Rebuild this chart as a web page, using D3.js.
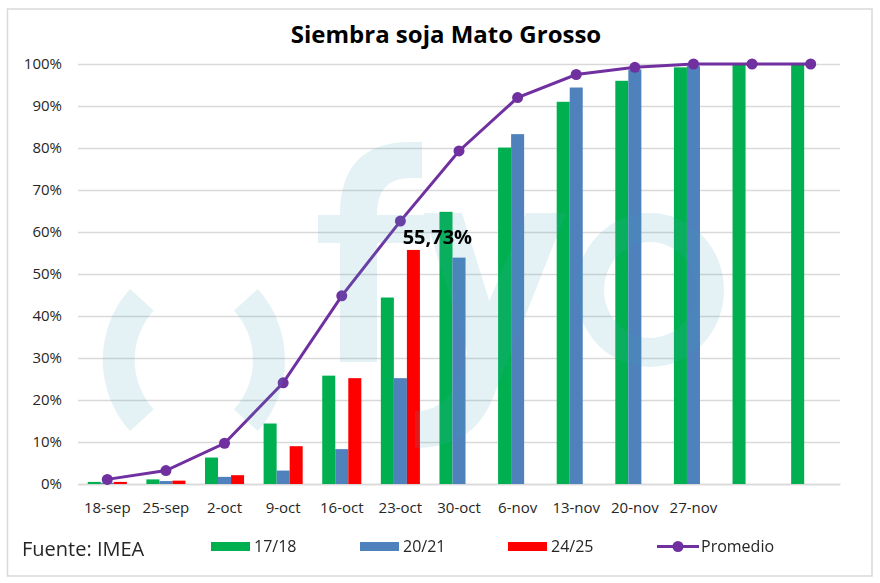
<!DOCTYPE html>
<html><head><meta charset="utf-8">
<script src="https://cdn.jsdelivr.net/npm/d3@7"></script>
<style>
body{margin:0;background:#fff}
svg{display:block}
text{font-family:"Open Sans",Lato,sans-serif}
</style>
</head><body>
<svg id="c" width="880" height="583"></svg>
<script>
// ---- data ----
const categories = ["18-sep","25-sep","2-oct","9-oct","16-oct","23-oct","30-oct","6-nov","13-nov","20-nov","27-nov","",""];
const seriesNames = ["17/18","20/21","24/25"];
const s1718 = [0.5, 1.1, 6.3, 14.4, 25.8, 44.4, 64.8, 80.1, 91.0, 96.0, 99.2, 100, 100];
const s2021 = [0.3, 0.7, 1.7, 3.2, 8.3, 25.2, 53.9, 83.3, 94.4, 98.7, 99.5, null, null];
const s2425 = [0.5, 0.8, 2.1, 9.0, 25.2, 55.73, null, null, null, null, null, null, null];
const promedio = [1.1, 3.2, 9.7, 24.1, 44.8, 62.6, 79.3, 92.0, 97.5, 99.2, 100, 100, 100];
const yTicks = [0,10,20,30,40,50,60,70,80,90,100];
const titleText = "Siembra soja Mato Grosso";
const sourceText = "Fuente: IMEA";
const lineName = "Promedio";
const highlightLabel = "55,73%";

const colors = {"17/18":"#00b050","20/21":"#4f81bd","24/25":"#ff0000"};
const lineColor = "#7030a0";
const seriesData = {"17/18":s1718,"20/21":s2021,"24/25":s2425};
const FONT = '"Open Sans",Lato,sans-serif';
const TXT = "#262626";

// ---- layout ----
const svg = d3.select("#c");
const L = 78, R = 840, T = 64, B = 484;

svg.append("rect").attr("x",7.5).attr("y",9).attr("width",864.5).attr("height",567)
  .attr("fill","#fff").attr("stroke","#d9d9d9").attr("stroke-width",1.5);

const x = d3.scaleBand().domain(d3.range(categories.length)).range([L,R]).padding(0);
const xs = d3.scaleBand().domain(seriesNames).range([0,x.bandwidth()]).paddingInner(0).paddingOuter(0.75);
const y = d3.scaleLinear().domain([0,100]).range([B,T]);

// title
svg.append("text").attr("x",446).attr("y",43).attr("text-anchor","middle")
  .attr("font-size",24).attr("font-weight","bold").attr("fill","#000").text(titleText);

// y axis + grid
const ya = svg.append("g").attr("transform",`translate(${L},0)`)
  .call(d3.axisLeft(y).tickValues(yTicks).tickSize(-(R-L)).tickPadding(16).tickFormat(d=>d+"%"));
ya.select(".domain").remove();
ya.selectAll(".tick line").attr("stroke","#d9d9d9").attr("stroke-width",1.4);
ya.selectAll(".tick text").attr("font-size",15).attr("fill",TXT).style("font-family",FONT);

// x axis
const xa = svg.append("g").attr("transform",`translate(0,${B})`)
  .call(d3.axisBottom(x).tickSize(0).tickPadding(18.5).tickFormat(i=>categories[i]));
xa.select(".domain").attr("stroke","#d9d9d9").attr("stroke-width",1.4);
xa.selectAll(".tick text").attr("font-size",15).attr("fill",TXT).style("font-family",FONT);

// bars
seriesNames.forEach(name=>{
  const vals = seriesData[name].map((v,i)=>({i,v})).filter(d=>d.v!=null);
  svg.append("g").selectAll("rect").data(vals).join("rect")
    .attr("x",d=>x(d.i)+xs(name))
    .attr("y",d=>y(d.v))
    .attr("width",xs.bandwidth())
    .attr("height",d=>y(0)-y(d.v))
    .attr("fill",colors[name]);
});

// line
const cx = i=>x(i)+x.bandwidth()/2;
svg.append("path").datum(promedio)
  .attr("d",d3.line().x((d,i)=>cx(i)).y(d=>y(d)))
  .attr("fill","none").attr("stroke",lineColor).attr("stroke-width",3);
svg.append("g").selectAll("circle").data(promedio).join("circle")
  .attr("cx",(d,i)=>cx(i)).attr("cy",d=>y(d)).attr("r",5.5).attr("fill",lineColor);

// watermark
const wm = svg.append("g").attr("opacity",0.145).attr("fill","rgb(69,165,186)");
const arc = d3.arc().innerRadius(74).outerRadius(106);
const sp = 0.733;
wm.append("path").attr("transform","translate(208.7,360)")
  .attr("d",arc({startAngle:-Math.PI/2-sp,endAngle:-Math.PI/2+sp}));
wm.append("path").attr("transform","translate(179,360)")
  .attr("d",arc({startAngle:Math.PI/2-sp,endAngle:Math.PI/2+sp}));
// f
wm.append("path").attr("d","M340 362 L340 215 C340 165 365 142 410 142 L422 142 L422 178 L412 178 C388 178 377 190 377 215 L377 362 Z");
wm.append("rect").attr("x",318).attr("y",215).attr("width",112).attr("height",28);
// y
wm.append("path").attr("d","M424 213 L462 213 L509 365 L471 365 Z");
wm.append("path").attr("d","M526 213 L566 213 L492 400 Q472 448 415 448 L415 411 Q442 411 453 388 Z");
// o
wm.append("path").attr("fill-rule","evenodd")
  .attr("d","M576 290 A74 77 0 1 0 724 290 A74 77 0 1 0 576 290 Z M604 290 A46 48 0 1 1 696 290 A46 48 0 1 1 604 290 Z");

// highlight label
const hi = 5;
svg.append("text")
  .attr("x",x(hi)+xs("24/25")+xs.bandwidth()/2+24)
  .attr("y",y(s2425[hi])-6)
  .attr("text-anchor","middle").attr("font-size",20).attr("font-weight","bold").attr("fill","#000")
  .text(highlightLabel);

// legend
const lg = svg.append("g");
lg.append("text").attr("x",22).attr("y",556).attr("font-size",20).attr("fill",TXT).text(sourceText);
const legX = [211,360,508];
seriesNames.forEach((n,k)=>{
  lg.append("rect").attr("x",legX[k]).attr("y",542).attr("width",39).attr("height",9).attr("fill",colors[n]);
  lg.append("text").attr("x",legX[k]+43).attr("y",552).attr("font-size",16).attr("fill",TXT).text(n);
});
lg.append("line").attr("x1",657).attr("x2",699).attr("y1",546.5).attr("y2",546.5)
  .attr("stroke",lineColor).attr("stroke-width",3);
lg.append("circle").attr("cx",678).attr("cy",546.5).attr("r",5.5).attr("fill",lineColor);
lg.append("text").attr("x",701).attr("y",552).attr("font-size",16).attr("fill",TXT).text(lineName);
</script>
</body></html>
